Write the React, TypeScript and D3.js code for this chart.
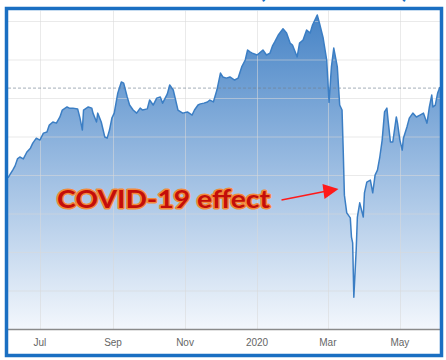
import React from 'react';
import * as d3 from 'd3';

const dates: string[] = [
  '2019-06-04','2019-06-06','2019-06-08','2019-06-10','2019-06-12','2019-06-14','2019-06-17','2019-06-20','2019-06-23','2019-06-25',
  '2019-06-28','2019-07-01','2019-07-04','2019-07-07','2019-07-09','2019-07-12','2019-07-15','2019-07-18','2019-07-20','2019-07-24',
  '2019-07-26','2019-07-29','2019-08-02','2019-08-04','2019-08-06','2019-08-07','2019-08-11','2019-08-14','2019-08-15','2019-08-18',
  '2019-08-19','2019-08-22','2019-08-25','2019-08-27','2019-08-29','2019-08-31','2019-09-02','2019-09-05','2019-09-08','2019-09-10',
  '2019-09-13','2019-09-15','2019-09-18','2019-09-21','2019-09-24','2019-09-26','2019-09-30','2019-10-02','2019-10-05','2019-10-08',
  '2019-10-11','2019-10-13','2019-10-17','2019-10-19','2019-10-22','2019-10-24','2019-10-26','2019-10-30','2019-11-03','2019-11-07',
  '2019-11-09','2019-11-12','2019-11-14','2019-11-17','2019-11-20','2019-11-22','2019-11-25','2019-11-28','2019-12-01','2019-12-03',
  '2019-12-06','2019-12-09','2019-12-13','2019-12-16','2019-12-19','2019-12-22','2019-12-24','2019-12-26','2019-12-28','2020-01-01',
  '2020-01-03','2020-01-06','2020-01-09','2020-01-12','2020-01-14','2020-01-16','2020-01-19','2020-01-23','2020-01-26','2020-01-29',
  '2020-01-31','2020-02-04','2020-02-06','2020-02-09','2020-02-12','2020-02-15','2020-02-17','2020-02-21','2020-02-23','2020-02-26',
  '2020-02-29','2020-03-02','2020-03-04','2020-03-06','2020-03-09','2020-03-11','2020-03-13','2020-03-14','2020-03-15','2020-03-17',
  '2020-03-20','2020-03-21','2020-03-22','2020-03-23','2020-03-25','2020-03-26','2020-03-28','2020-03-31','2020-04-01','2020-04-03',
  '2020-04-06','2020-04-08','2020-04-10','2020-04-12','2020-04-14','2020-04-16','2020-04-18','2020-04-20','2020-04-21','2020-04-23',
  '2020-04-25','2020-04-28','2020-04-29','2020-05-01','2020-05-03','2020-05-04','2020-05-07','2020-05-09','2020-05-12','2020-05-15',
  '2020-05-18','2020-05-21','2020-05-24','2020-05-26','2020-05-28','2020-05-29','2020-05-31','2020-06-02','2020-06-04'
];

const values: number[] = [
  2594, 2604, 2614, 2625, 2643, 2648, 2643, 2661, 2671, 2684,
  2697, 2692, 2710, 2713, 2731, 2739, 2736, 2752, 2770, 2778,
  2775, 2775, 2773, 2749, 2718, 2770, 2778, 2775, 2762, 2739,
  2762, 2739, 2700, 2697, 2718, 2749, 2762, 2814, 2843, 2840,
  2804, 2783, 2770, 2762, 2775, 2770, 2773, 2796, 2783, 2801,
  2804, 2788, 2812, 2835, 2822, 2796, 2770, 2762, 2765, 2757,
  2770, 2783, 2786, 2788, 2791, 2796, 2791, 2822, 2866, 2856,
  2853, 2856, 2848, 2853, 2882, 2900, 2926, 2921, 2918, 2913,
  2918, 2926, 2913, 2918, 2936, 2947, 2965, 2981, 2970, 2944,
  2939, 2908, 2944, 2952, 2978, 2970, 2991, 3017, 2994, 2957,
  2900, 2790, 2882, 2931, 2882, 2783, 2770, 2666, 2549, 2503,
  2490, 2440, 2425, 2284, 2407, 2492, 2529, 2492, 2555, 2583,
  2588, 2555, 2601, 2614, 2648, 2692, 2765, 2775, 2744, 2687,
  2687, 2752, 2736, 2692, 2666, 2697, 2726, 2749, 2762, 2752,
  2757, 2762, 2736, 2778, 2809, 2778, 2783, 2814, 2830
];

const xTickDates: string[] = ['2019-07-01', '2019-09-01', '2019-11-01', '2020-01-01', '2020-03-01', '2020-05-01'];
const xTickLabels: string[] = ['Jul', 'Sep', 'Nov', '2020', 'Mar', 'May'];
const yGridValues: number[] = [2300, 2400, 2500, 2600, 2700, 2800, 2900, 3000];
const referenceValue = 2827;
const annotationText = 'COVID-19 effect';
const arrowTipDate = '2020-03-10';
const arrowTipValue = 2565;

export default function App() {
  const W = 446;
  const H = 360;
  const parse = d3.timeParse('%Y-%m-%d');
  const data = dates.map((d, i) => ({ date: parse(d) as Date, value: values[i] }));

  const plotLeft = 8;
  const plotRight = 440;
  const plotTop = 10.5;
  const axisY = 329.5;

  const x = d3.scaleTime()
    .domain(d3.extent(data, (d) => d.date) as [Date, Date])
    .range([plotLeft, plotRight]);
  const y = d3.scaleLinear().domain([2200, 3000]).range([axisY, 21.5]);

  const area = d3.area<{ date: Date; value: number }>()
    .x((d) => x(d.date))
    .y0(y(2200))
    .y1((d) => y(d.value))
    .curve(d3.curveLinear);
  const line = d3.line<{ date: Date; value: number }>()
    .x((d) => x(d.date))
    .y((d) => y(d.value))
    .curve(d3.curveLinear);

  const tipX = x(parse(arrowTipDate) as Date);
  const tipY = y(arrowTipValue);

  return (
    <svg
      width={W}
      height={H}
      style={{ position: 'fixed', left: 0, top: 0, background: '#ffffff' }}
    >
      <defs>
        <linearGradient id="areaGrad" gradientUnits="userSpaceOnUse" x1={0} x2={0} y1={y(3030)} y2={axisY}>
          <stop offset="0%" stopColor="#4482c5" />
          <stop offset="50%" stopColor="#9cbde2" />
          <stop offset="100%" stopColor="#f3f7fc" />
        </linearGradient>
        <clipPath id="plotClip">
          <rect x={plotLeft} y={plotTop} width={plotRight - plotLeft} height={axisY - plotTop} />
        </clipPath>
      </defs>

      {/* title fragments cut at top */}
      <text x={259} y={-2} fontFamily="Lato, 'DejaVu Sans', sans-serif" fontWeight="bold" fontSize={24} fill="#1a6fc2">(</text>
      <text x={402} y={-2} fontFamily="Lato, 'DejaVu Sans', sans-serif" fontWeight="bold" fontSize={24} fill="#1a6fc2">)</text>

      <rect x={6.5} y={8.5} width={435} height={347} fill="#ffffff" />

      <g clipPath="url(#plotClip)">
        <path d={area(data) || ''} fill="url(#areaGrad)" />
        {/* grid lines */}
        {yGridValues.map((v) => (
          <line key={'h' + v} x1={plotLeft} x2={plotRight + 2} y1={y(v)} y2={y(v)} stroke="#d8d8d8" strokeOpacity={0.55} strokeWidth={1} />
        ))}
        {xTickDates.map((d) => {
          const xx = Math.round(x(parse(d) as Date)) + 0.5;
          return <line key={'v' + d} x1={xx} x2={xx} y1={plotTop} y2={axisY} stroke="#d8d8d8" strokeOpacity={0.55} strokeWidth={1} />;
        })}
        <line
          x1={plotLeft}
          x2={plotRight + 2}
          y1={y(referenceValue)}
          y2={y(referenceValue)}
          stroke="#6f7f90"
          strokeOpacity={0.8}
          strokeWidth={0.8}
          strokeDasharray="3,2"
        />
        <path d={line(data) || ''} fill="none" stroke="#3b7ec4" strokeWidth={1.5} strokeLinejoin="round" />
      </g>

      {/* x axis */}
      <line x1={plotLeft} x2={plotRight + 2} y1={axisY} y2={axisY} stroke="#8a8a8a" strokeWidth={1.5} />
      {xTickDates.map((d, i) => (
        <text
          key={'t' + d}
          x={x(parse(d) as Date)}
          y={346}
          textAnchor="middle"
          fontFamily="'Liberation Sans Narrow', 'Arial Narrow', 'Liberation Sans', sans-serif"
          fontSize={10}
          fill="#666666"
        >
          {xTickLabels[i]}
        </text>
      ))}

      {/* annotation */}
      <text
        x={57}
        y={208}
        fontFamily="Lato, 'Open Sans', sans-serif"
        fontWeight="bold"
        fontSize={25}
        textLength={213}
        lengthAdjust="spacingAndGlyphs"
        fill="#c40e0a"
        stroke="#f38a3a"
        strokeWidth={3}
        strokeLinejoin="round"
        paintOrder="stroke"
      >
        {annotationText}
      </text>
      <line x1={tipX - 57} y1={tipY + 11} x2={tipX - 14} y2={tipY + 2.5} stroke="#ff1a1a" strokeWidth={1.5} />
      <polygon
        points={`${tipX},${tipY} ${tipX - 16},${tipY - 5} ${tipX - 14},${tipY + 10}`}
        fill="#ff1a1a"
      />

      {/* frame */}
      <rect x={6.5} y={8.5} width={435} height={347} fill="none" stroke="#1a6fc2" strokeWidth={3.5} />
    </svg>
  );
}
